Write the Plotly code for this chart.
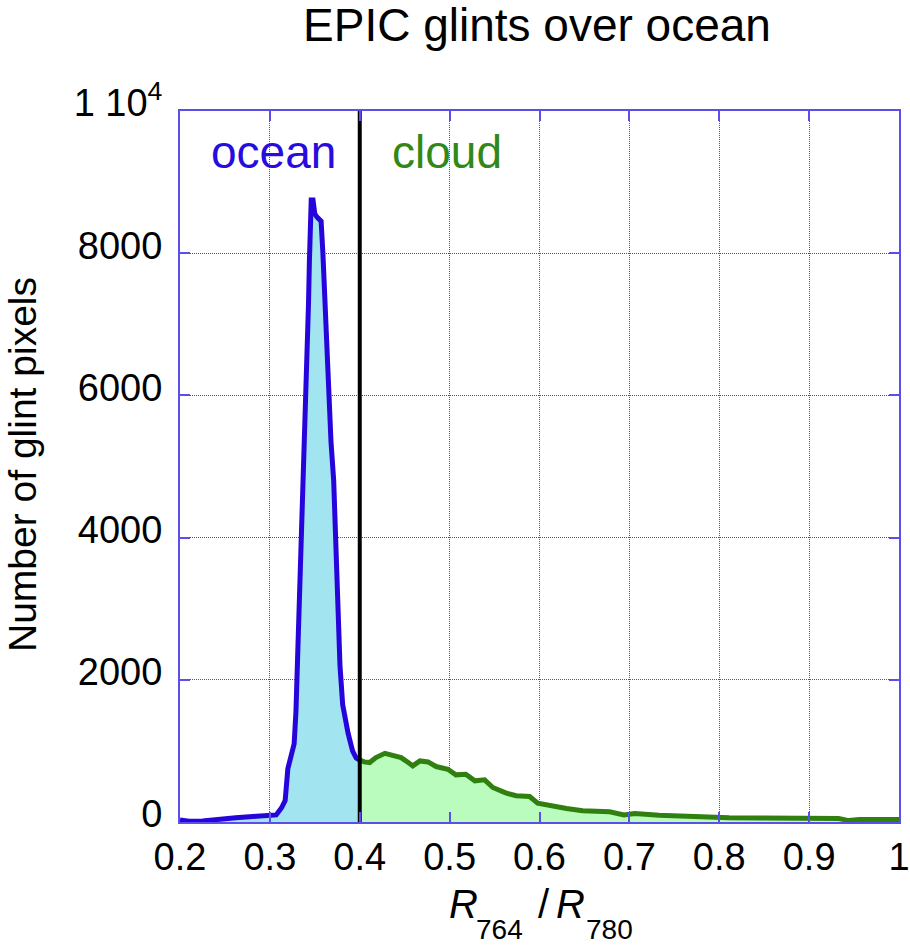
import plotly.graph_objects as go

# ---- data ----
ocean_x = [0.200, 0.210, 0.225, 0.245, 0.262, 0.285, 0.300, 0.307, 0.313, 0.317,
           0.320, 0.324, 0.327, 0.329, 0.331, 0.333, 0.335, 0.337, 0.339, 0.341,
           0.342, 0.343, 0.344, 0.346, 0.348, 0.350, 0.353, 0.357, 0.359, 0.361,
           0.364, 0.368, 0.371, 0.373, 0.376, 0.378, 0.381, 0.384, 0.387, 0.392,
           0.396, 0.400]
ocean_y = [30, 10, 15, 30, 60, 80, 95, 100, 200, 300,
           750, 950, 1100, 1550, 2350, 2900, 3950, 4450, 5500, 6100,
           6700, 7300, 7900, 8750, 8750, 8550, 8500, 8450, 8000, 7350,
           6300, 5350, 4800, 3950, 3100, 2200, 1650, 1400, 1250, 1000,
           900, 870]

cloud_x = [0.400, 0.405, 0.411, 0.418, 0.428, 0.437, 0.446, 0.454, 0.459, 0.467,
           0.476, 0.485, 0.498, 0.507, 0.518, 0.528, 0.539, 0.548, 0.563, 0.574,
           0.589, 0.598, 0.611, 0.630, 0.648, 0.678, 0.694, 0.706, 0.733, 0.767,
           0.811, 0.850, 0.900, 0.933, 0.944, 0.956, 1.000]
cloud_y = [870, 845, 836, 906, 966, 938, 906, 836, 789, 859,
           845, 780, 742, 663, 672, 579, 593, 486, 406, 369,
           359, 266, 229, 191, 159, 145, 100, 120, 95, 75,
           60, 55, 52, 50, 20, 35, 35]

divider_x = 0.4
x_ticks = [0.2, 0.3, 0.4, 0.5, 0.6, 0.7, 0.8, 0.9, 1.0]
x_tick_labels = ["0.2", "0.3", "0.4", "0.5", "0.6", "0.7", "0.8", "0.9", "1"]
y_ticks = [0, 2000, 4000, 6000, 8000, 10000]
y_tick_labels = ["0", "2000", "4000", "6000", "8000", "1 10<sup>4</sup>"]

FONT = "Liberation Sans, Arial, Helvetica, sans-serif"
FRAME = "rgb(92,78,232)"
GRID = "rgb(80,60,245)"

fig = go.Figure()
fig.add_trace(go.Scatter(
    x=ocean_x, y=ocean_y, mode="lines", fill="tozeroy",
    fillcolor="rgb(162,228,240)",
    line=dict(color="rgb(38,4,220)", width=5), showlegend=False))
fig.add_trace(go.Scatter(
    x=cloud_x, y=cloud_y, mode="lines", fill="tozeroy",
    fillcolor="rgb(186,252,190)",
    line=dict(color="rgb(48,128,16)", width=5), showlegend=False))
fig.add_trace(go.Scatter(
    x=[divider_x, divider_x], y=[y_ticks[0], y_ticks[-1]], mode="lines",
    line=dict(color="black", width=4), showlegend=False))

axis_common = dict(
    showline=True, linecolor=FRAME, linewidth=2, mirror="ticks",
    ticks="inside", ticklen=10, tickwidth=2, tickcolor=FRAME,
    showgrid=True, gridcolor=GRID, gridwidth=1, griddash="1px,1px",
    zeroline=False, automargin=False,
    tickfont=dict(family=FONT, size=38, color="black"),
)

fig.update_xaxes(range=[0.2, 1.0], tickmode="array", tickvals=x_ticks,
                 ticktext=x_tick_labels, **axis_common)
fig.update_yaxes(range=[0, 10000], tickmode="array", tickvals=y_ticks,
                 ticktext=y_tick_labels, ticklabelstandoff=8,
                 ticklabelshift=-8, **axis_common)

L, R, T, B = 180, 11, 111, 125
W, H = 910, 947

def px(p):
    return (p - L) / (W - L - R)

def py(p):
    return (H - B - p) / (H - B - T)

ann = []
ann.append(dict(text="ocean", x=0.3044, y=9425, xref="x", yref="y",
                showarrow=False, font=dict(family=FONT, size=46, color="rgb(40,12,222)")))
ann.append(dict(text="cloud", x=0.4967, y=9425, xref="x", yref="y",
                showarrow=False, font=dict(family=FONT, size=46, color="rgb(50,135,25)")))

# y-axis title
ann.append(dict(text="Number of glint pixels", x=px(22), y=py(465),
                xref="paper", yref="paper", textangle=-90,
                xanchor="center", yanchor="middle", showarrow=False,
                font=dict(family=FONT, size=39, color="black")))

# x-axis title R_764 / R_780
ann.append(dict(text="<i>R</i>", x=px(447), y=py(904), xref="paper", yref="paper",
                xanchor="left", yanchor="middle", showarrow=False,
                font=dict(family=FONT, size=40, color="black")))
ann.append(dict(text="764", x=px(474), y=py(929), xref="paper", yref="paper",
                xanchor="left", yanchor="middle", showarrow=False,
                font=dict(family=FONT, size=28, color="black")))
ann.append(dict(text="/", x=px(536), y=py(904), xref="paper", yref="paper",
                xanchor="left", yanchor="middle", showarrow=False,
                font=dict(family=FONT, size=40, color="black")))
ann.append(dict(text="<i>R</i>", x=px(554), y=py(904), xref="paper", yref="paper",
                xanchor="left", yanchor="middle", showarrow=False,
                font=dict(family=FONT, size=40, color="black")))
ann.append(dict(text="780", x=px(584), y=py(929), xref="paper", yref="paper",
                xanchor="left", yanchor="middle", showarrow=False,
                font=dict(family=FONT, size=28, color="black")))

fig.update_layout(
    width=W, height=H,
    margin=dict(l=L, r=R, t=T, b=B, autoexpand=False),
    paper_bgcolor="white", plot_bgcolor="white",
    title=dict(text="EPIC glints over ocean", x=537 / W, xanchor="center",
               y=1 - 25 / H, yanchor="middle",
               font=dict(family=FONT, size=46, color="black")),
    annotations=ann,
    showlegend=False,
)

fig.write_html(
    "out.html",
    config={"displayModeBar": False},
    post_script="document.body.style.margin='0';"
                "document.body.style.overflow='hidden';",
)
